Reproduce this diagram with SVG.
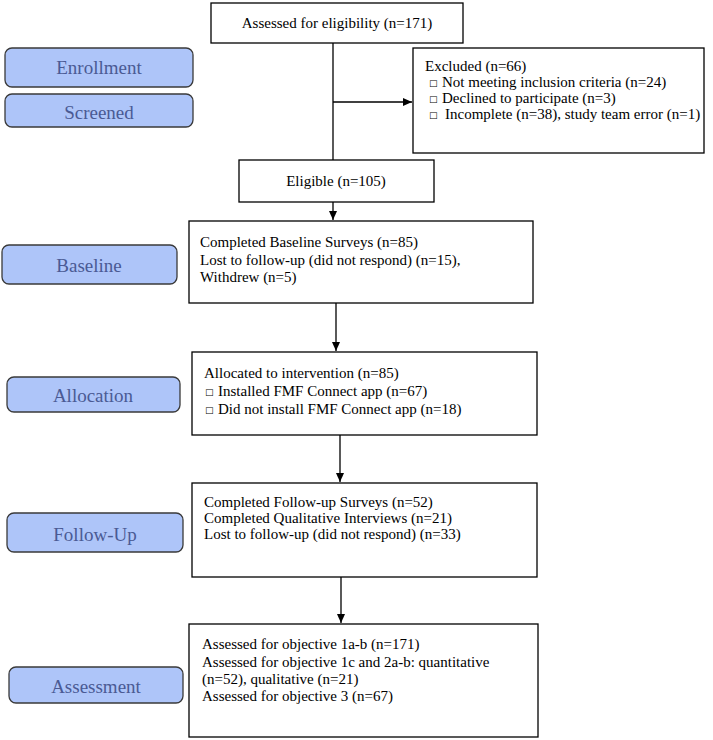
<svg xmlns="http://www.w3.org/2000/svg" width="713" height="740" viewBox="0 0 713 740">
<defs>
<marker id="arr" markerWidth="10" markerHeight="10" refX="9" refY="5" orient="auto" markerUnits="userSpaceOnUse">
<path d="M0,1 L9,5 L0,9 Z" fill="#000"/>
</marker>
<style>
.box{fill:#fff;stroke:#000;stroke-width:1.3}
.lab{fill:#aec5f9;stroke:#3a3a3a;stroke-width:1.3}
.c{stroke:#000;stroke-width:1.3;fill:none}
</style>
</defs>
<rect width="713" height="740" fill="#fff"/>

<g id="connectors">
<line class="c" x1="333" y1="43" x2="333" y2="160"/>
<line class="c" x1="333" y1="102" x2="412" y2="102" marker-end="url(#arr)"/>
<line class="c" x1="333" y1="202" x2="333" y2="220" marker-end="url(#arr)"/>
<line class="c" x1="336" y1="303" x2="336" y2="351" marker-end="url(#arr)"/>
<line class="c" x1="340" y1="435" x2="340" y2="482" marker-end="url(#arr)"/>
<line class="c" x1="341" y1="577" x2="341" y2="623" marker-end="url(#arr)"/>
</g>

<g font-family="Liberation Serif, Times New Roman, serif" font-size="19" fill="#4a5a94" text-anchor="middle">
<g id="lab-enrollment"><rect class="lab" x="5" y="48" width="188" height="39" rx="7"/><text x="99" y="74">Enrollment</text></g>
<g id="lab-screened"><rect class="lab" x="5" y="94" width="188" height="33" rx="7"/><text x="99" y="119">Screened</text></g>
<g id="lab-baseline"><rect class="lab" x="2" y="245" width="175" height="39" rx="7"/><text x="89" y="272">Baseline</text></g>
<g id="lab-allocation"><rect class="lab" x="7" y="377" width="173" height="35" rx="7"/><text x="93" y="402">Allocation</text></g>
<g id="lab-followup"><rect class="lab" x="7" y="513" width="176" height="39" rx="7"/><text x="95" y="541">Follow-Up</text></g>
<g id="lab-assessment"><rect class="lab" x="9" y="667" width="174" height="36" rx="7"/><text x="96" y="693">Assessment</text></g>
</g>

<g font-family="Liberation Serif, Times New Roman, serif" font-size="15" fill="#000">
<g id="n-assessed"><rect class="box" x="211" y="3" width="252" height="40"/><text x="337" y="28" text-anchor="middle">Assessed for eligibility (n=171)</text></g>

<g id="n-excluded"><rect class="box" x="413" y="48" width="291" height="105"/>
<text x="425" y="71">Excluded (n=66)</text>
<text x="429" y="86" font-family="DejaVu Sans, sans-serif" font-size="9">□</text><text x="442" y="87">Not meeting inclusion criteria (n=24)</text>
<text x="429" y="102" font-family="DejaVu Sans, sans-serif" font-size="9">□</text><text x="442" y="103">Declined to participate (n=3)</text>
<text x="429" y="118" font-family="DejaVu Sans, sans-serif" font-size="9">□</text><text x="445" y="119">Incomplete (n=38), study team error (n=1)</text>
</g>

<g id="n-eligible"><rect class="box" x="239" y="160" width="195" height="42"/><text x="336" y="186" text-anchor="middle">Eligible (n=105)</text></g>

<g id="n-baseline"><rect class="box" x="189" y="221" width="344" height="82"/>
<text x="200" y="247">Completed Baseline Surveys (n=85)</text>
<text x="200" y="265">Lost to follow-up (did not respond) (n=15),</text>
<text x="200" y="282">Withdrew (n=5)</text>
</g>

<g id="n-allocation"><rect class="box" x="192" y="352" width="345" height="83"/>
<text x="204" y="378">Allocated to intervention (n=85)</text>
<text x="205" y="395" font-family="DejaVu Sans, sans-serif" font-size="9">□</text><text x="218" y="396">Installed FMF Connect app (n=67)</text>
<text x="205" y="413" font-family="DejaVu Sans, sans-serif" font-size="9">□</text><text x="218" y="414">Did not install FMF Connect app (n=18)</text>
</g>

<g id="n-followup"><rect class="box" x="192" y="483" width="345" height="94"/>
<text x="204" y="507">Completed Follow-up Surveys (n=52)</text>
<text x="204" y="523">Completed Qualitative Interviews (n=21)</text>
<text x="204" y="539">Lost to follow-up (did not respond) (n=33)</text>
</g>

<g id="n-assessment"><rect class="box" x="189" y="624" width="349" height="113"/>
<text x="202" y="649">Assessed for objective 1a-b (n=171)</text>
<text x="202" y="667">Assessed for objective 1c and 2a-b: quantitative</text>
<text x="202" y="684">(n=52), qualitative (n=21)</text>
<text x="202" y="701">Assessed for objective 3 (n=67)</text>
</g>
</g>
</svg>
